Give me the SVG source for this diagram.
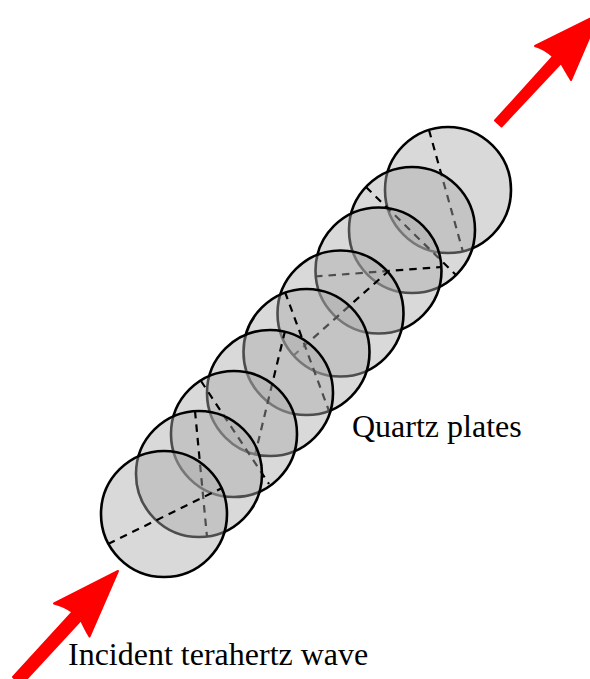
<svg xmlns="http://www.w3.org/2000/svg" width="590" height="679" viewBox="0 0 590 679">
<defs>
<style>
.plate{fill:#aaaaaa;fill-opacity:.45;stroke:#000;stroke-width:2.6}
.axis{fill:none;stroke:#000;stroke-width:2.2;stroke-dasharray:7.5 6}
.arrow{fill:#ff0000;stroke:#ff0000;stroke-width:2;stroke-linejoin:round}
text{font-family:"Liberation Serif","Times New Roman",serif;font-size:32px;fill:#000}
</style>
</defs>
<rect width="590" height="679" fill="#fff"/>
<g id="plates">
<g id="plate-9"><circle class="plate" cx="448" cy="190" r="63"/><path class="axis" d="M429 130L463 252"/></g>
<g id="plate-8"><circle class="plate" cx="412" cy="230" r="63"/><path class="axis" d="M366 187L456 275"/></g>
<g id="plate-7"><circle class="plate" cx="378.500" cy="270.500" r="63"/><path class="axis" d="M315 276.500L442 267"/></g>
<g id="plate-6"><circle class="plate" cx="340.500" cy="313.500" r="63"/><path class="axis" d="M293 356L388 271.500"/></g>
<g id="plate-5"><circle class="plate" cx="306.500" cy="352" r="63"/><path class="axis" d="M285 292L329 411"/></g>
<g id="plate-4"><circle class="plate" cx="270" cy="393" r="63"/><path class="axis" d="M285 331L255 455"/></g>
<g id="plate-3"><circle class="plate" cx="234" cy="434" r="63"/><path class="axis" d="M201 381L269 484"/></g>
<g id="plate-2"><circle class="plate" cx="199" cy="474" r="63"/><path class="axis" d="M195 411L207 537"/></g>
<g id="plate-1"><circle class="plate" cx="164" cy="514" r="63"/><path class="axis" d="M108 544L222 488"/></g>
</g>
<g id="connectors">
<path id="arrow-out" class="arrow" d="M495 120.500L553 56.500Q545 49 535 46L599.500 14L571 80Q565 70 561 63L501.500 126.500Z"/>
<path id="arrow-in" class="arrow" d="M13 677L72.500 612Q64 606 54 603.500L118 571L89.500 636.500Q84 627 81 620L21 685Z"/>
</g>
<g id="labels">
<text x="352" y="437">Quartz plates</text>
<text x="68" y="665">Incident terahertz wave</text>
</g>
</svg>
